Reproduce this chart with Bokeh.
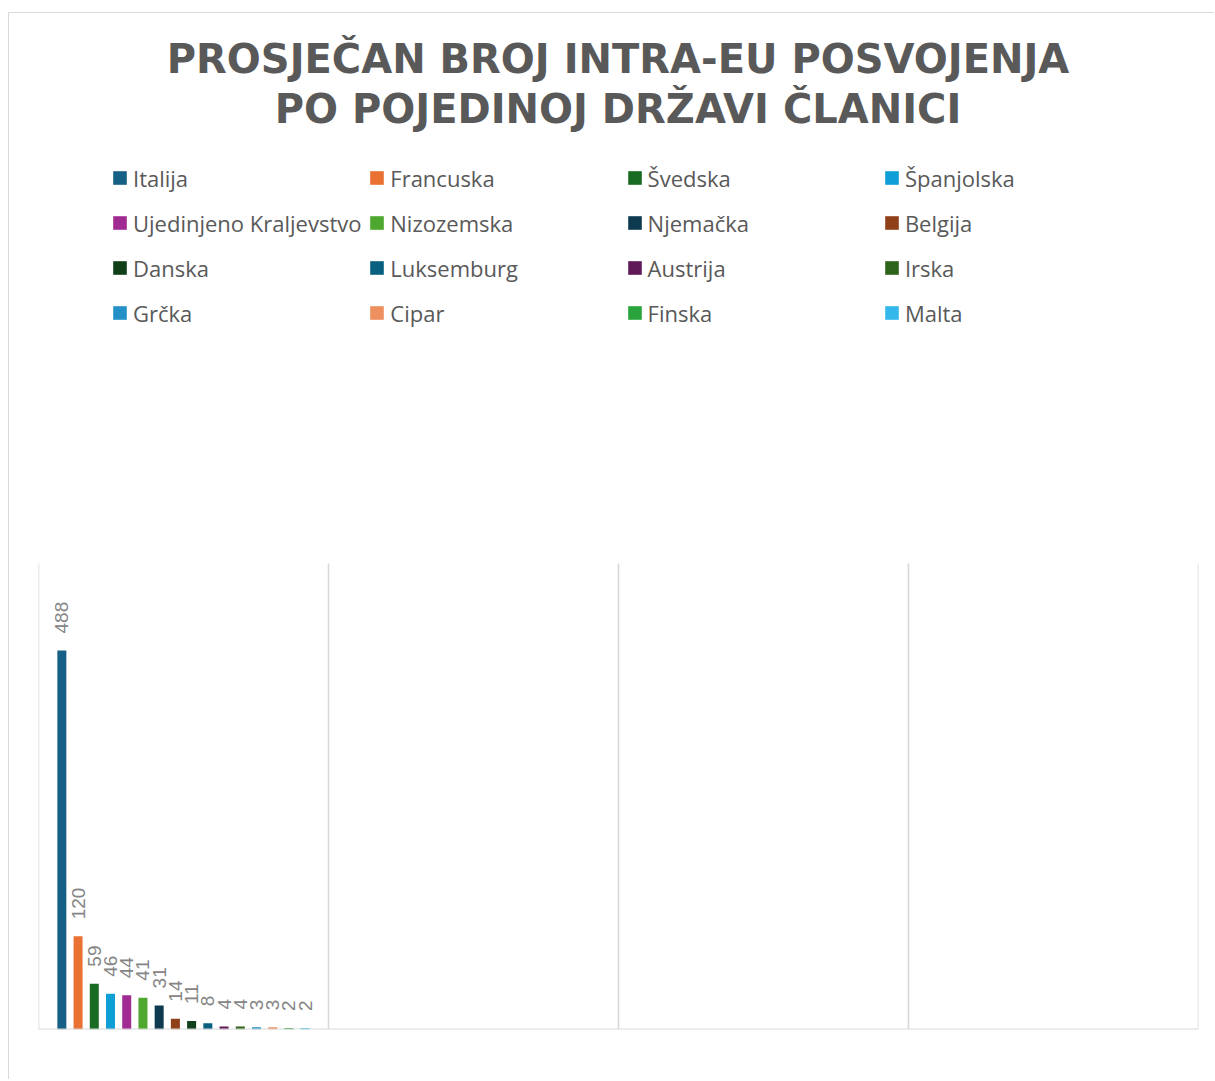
import math
from bokeh.plotting import figure
from bokeh.models import ColumnDataSource, Legend, LegendItem, Label, Span, Range1d
from bokeh.core.properties import value
from bokeh.embed import file_html
from bokeh.resources import INLINE

# ---- data ----
title_lines = ["PROSJEČAN BROJ INTRA-EU POSVOJENJA", "PO POJEDINOJ DRŽAVI ČLANICI"]
countries = ["Italija", "Francuska", "Švedska", "Španjolska",
             "Ujedinjeno Kraljevstvo", "Nizozemska", "Njemačka", "Belgija",
             "Danska", "Luksemburg", "Austrija", "Irska",
             "Grčka", "Cipar", "Finska", "Malta"]
values = [488, 120, 59, 46, 44, 41, 31, 14, 11, 8, 4, 4, 3, 3, 2, 2]
colors = ["#176085", "#e97132", "#196b24", "#0f9ed5",
          "#a02b93", "#4ea72e", "#0d3a4f", "#8f4018",
          "#10401a", "#095f80", "#601a58", "#2f641b",
          "#2391c7", "#ed8f5f", "#29a43c", "#34b8eb"]
n_slots = 4          # category slots on the x axis (only the first one is filled)
y_max = 600

# ---- layout constants ----
slot_px = 290.0
pitch = 16.22 / slot_px
bar_w = 9.0 / slot_px
n = len(values)
xs = [0.5 + (i - (n - 1) / 2) * pitch for i in range(n)]

plot_h = 466          # pixel height of the value axis 0..y_max
frame_h = 1016        # frame reaches up to the top so that title/legend are not clipped
y_top = y_max * frame_h / plot_h

src = ColumnDataSource(dict(x=xs, top=values, color=colors, name=countries,
                            label=[str(v) for v in values]))

p = figure(frame_width=1160, frame_height=frame_h,
           min_border_left=29, min_border_right=16, min_border_top=0, min_border_bottom=50,
           x_range=Range1d(0, n_slots), y_range=Range1d(0, y_top),
           x_axis_location=None, y_axis_location=None,
           output_backend="svg", toolbar_location=None,
           background_fill_color="white", border_fill_color="white",
           outline_line_color=None)
p.xgrid.visible = False
p.ygrid.visible = False

# vertical category gridlines (0 .. y_max only)
slots = list(range(n_slots + 1))
p.segment(x0=slots, y0=[0] * len(slots), x1=slots, y1=[y_max] * len(slots),
          line_color="#d9d9d9", line_width=1.6)
p.add_layout(Span(location=0, dimension="width", line_color="#d9d9d9", line_width=2))

r = p.vbar(x="x", top="top", bottom=0, width=bar_w, fill_color="color",
           line_color=None, source=src)

p.text(x="x", y="top", text="label", angle=math.pi / 2,
       text_align="left", text_baseline="middle", y_offset=-17,
       text_font=value("Liberation Sans"), text_font_size="19px",
       text_color="#858585", source=src)

# legends: 4 columns, row-major order
col_vx = [73.0, 330.3, 587.6, 844.9]
for c in range(4):
    items = [LegendItem(label=value(countries[k]), renderers=[r], index=k)
             for k in range(c, n, 4)]
    leg = Legend(items=items, location=(col_vx[c], 701.3), orientation="vertical",
                 glyph_width=17, glyph_height=17, label_standoff=5,
                 label_height=30, spacing=15, padding=0, margin=0,
                 label_text_font="Open Sans", label_text_font_size="22px",
                 label_text_color="#595959",
                 border_line_color=None, background_fill_alpha=0)
    p.add_layout(leg, "center")

for line, ybase in zip(title_lines, [971, 921]):
    p.add_layout(Label(x=579.5, y=ybase, x_units="screen", y_units="screen",
                       text=line, text_align="center", text_baseline="alphabetic",
                       text_font="DejaVu Sans", text_font_style="bold",
                       text_font_size="40px", text_color="#595959"))

p.styles = {"border-top": "1px solid #d9d9d9", "border-left": "1px solid #d9d9d9",
            "margin-top": "12px", "margin-left": "8px"}

open("out.html", "w").write(file_html(p, INLINE))
